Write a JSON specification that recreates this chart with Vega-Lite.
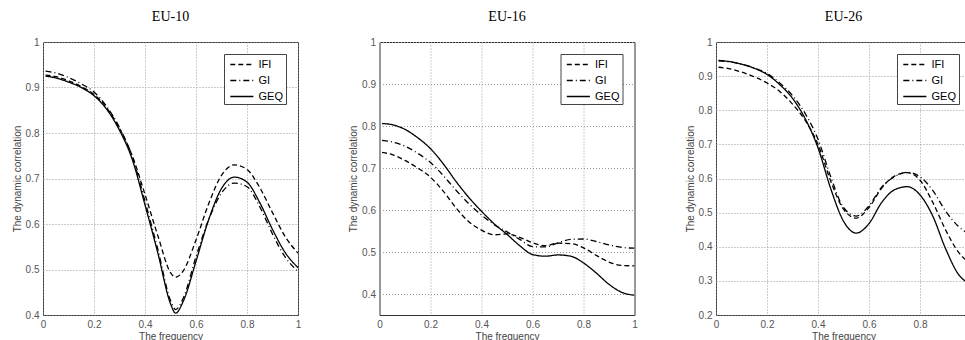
{
  "$schema": "https://vega.github.io/schema/vega-lite/v6.json",
  "padding": {"left": 11, "top": 9, "right": 0, "bottom": 0},
  "background": "white",
  "bounds": "flush",
  "spacing": 81.5,
  "datasets": {
    "eu10": [
      {"f":0.01,"s":"IFI","v":0.927},{"f":0.05,"s":"IFI","v":0.924},{"f":0.1,"s":"IFI","v":0.915},{"f":0.15,"s":"IFI","v":0.902},{"f":0.2,"s":"IFI","v":0.885},{"f":0.25,"s":"IFI","v":0.855},{"f":0.3,"s":"IFI","v":0.81},{"f":0.35,"s":"IFI","v":0.75},{"f":0.4,"s":"IFI","v":0.665},{"f":0.45,"s":"IFI","v":0.575},{"f":0.5,"s":"IFI","v":0.493},{"f":0.52,"s":"IFI","v":0.483},{"f":0.55,"s":"IFI","v":0.497},{"f":0.6,"s":"IFI","v":0.565},{"f":0.65,"s":"IFI","v":0.645},{"f":0.7,"s":"IFI","v":0.707},{"f":0.75,"s":"IFI","v":0.73},{"f":0.8,"s":"IFI","v":0.72},{"f":0.85,"s":"IFI","v":0.68},{"f":0.9,"s":"IFI","v":0.625},{"f":0.95,"s":"IFI","v":0.572},{"f":1,"s":"IFI","v":0.536},
      {"f":0.01,"s":"GI","v":0.936},{"f":0.05,"s":"GI","v":0.932},{"f":0.1,"s":"GI","v":0.922},{"f":0.15,"s":"GI","v":0.908},{"f":0.2,"s":"GI","v":0.89},{"f":0.25,"s":"GI","v":0.858},{"f":0.3,"s":"GI","v":0.812},{"f":0.35,"s":"GI","v":0.748},{"f":0.4,"s":"GI","v":0.65},{"f":0.45,"s":"GI","v":0.545},{"f":0.5,"s":"GI","v":0.432},{"f":0.52,"s":"GI","v":0.412},{"f":0.55,"s":"GI","v":0.437},{"f":0.6,"s":"GI","v":0.528},{"f":0.65,"s":"GI","v":0.61},{"f":0.7,"s":"GI","v":0.668},{"f":0.75,"s":"GI","v":0.69},{"f":0.8,"s":"GI","v":0.682},{"f":0.85,"s":"GI","v":0.638},{"f":0.9,"s":"GI","v":0.578},{"f":0.95,"s":"GI","v":0.527},{"f":1,"s":"GI","v":0.496},
      {"f":0.01,"s":"GEQ","v":0.925},{"f":0.05,"s":"GEQ","v":0.921},{"f":0.1,"s":"GEQ","v":0.912},{"f":0.15,"s":"GEQ","v":0.9},{"f":0.2,"s":"GEQ","v":0.882},{"f":0.25,"s":"GEQ","v":0.852},{"f":0.3,"s":"GEQ","v":0.806},{"f":0.35,"s":"GEQ","v":0.742},{"f":0.4,"s":"GEQ","v":0.642},{"f":0.45,"s":"GEQ","v":0.537},{"f":0.5,"s":"GEQ","v":0.425},{"f":0.52,"s":"GEQ","v":0.404},{"f":0.55,"s":"GEQ","v":0.43},{"f":0.6,"s":"GEQ","v":0.518},{"f":0.65,"s":"GEQ","v":0.61},{"f":0.7,"s":"GEQ","v":0.678},{"f":0.75,"s":"GEQ","v":0.703},{"f":0.8,"s":"GEQ","v":0.692},{"f":0.85,"s":"GEQ","v":0.647},{"f":0.9,"s":"GEQ","v":0.588},{"f":0.95,"s":"GEQ","v":0.537},{"f":1,"s":"GEQ","v":0.504}
    ],
    "eu16": [
      {"f":0.01,"s":"IFI","v":0.737},{"f":0.05,"s":"IFI","v":0.732},{"f":0.1,"s":"IFI","v":0.718},{"f":0.15,"s":"IFI","v":0.7},{"f":0.2,"s":"IFI","v":0.678},{"f":0.25,"s":"IFI","v":0.645},{"f":0.3,"s":"IFI","v":0.605},{"f":0.35,"s":"IFI","v":0.572},{"f":0.4,"s":"IFI","v":0.552},{"f":0.45,"s":"IFI","v":0.541},{"f":0.5,"s":"IFI","v":0.543},{"f":0.55,"s":"IFI","v":0.535},{"f":0.6,"s":"IFI","v":0.522},{"f":0.65,"s":"IFI","v":0.515},{"f":0.7,"s":"IFI","v":0.521},{"f":0.75,"s":"IFI","v":0.52},{"f":0.8,"s":"IFI","v":0.51},{"f":0.85,"s":"IFI","v":0.492},{"f":0.9,"s":"IFI","v":0.476},{"f":0.95,"s":"IFI","v":0.468},{"f":1,"s":"IFI","v":0.467},
      {"f":0.01,"s":"GI","v":0.766},{"f":0.05,"s":"GI","v":0.762},{"f":0.1,"s":"GI","v":0.752},{"f":0.15,"s":"GI","v":0.735},{"f":0.2,"s":"GI","v":0.713},{"f":0.25,"s":"GI","v":0.682},{"f":0.3,"s":"GI","v":0.647},{"f":0.35,"s":"GI","v":0.615},{"f":0.4,"s":"GI","v":0.588},{"f":0.45,"s":"GI","v":0.565},{"f":0.5,"s":"GI","v":0.548},{"f":0.55,"s":"GI","v":0.53},{"f":0.6,"s":"GI","v":0.513},{"f":0.65,"s":"GI","v":0.512},{"f":0.7,"s":"GI","v":0.522},{"f":0.75,"s":"GI","v":0.53},{"f":0.8,"s":"GI","v":0.531},{"f":0.85,"s":"GI","v":0.525},{"f":0.9,"s":"GI","v":0.517},{"f":0.95,"s":"GI","v":0.511},{"f":1,"s":"GI","v":0.509},
      {"f":0.01,"s":"GEQ","v":0.806},{"f":0.05,"s":"GEQ","v":0.803},{"f":0.1,"s":"GEQ","v":0.792},{"f":0.15,"s":"GEQ","v":0.772},{"f":0.2,"s":"GEQ","v":0.746},{"f":0.25,"s":"GEQ","v":0.71},{"f":0.3,"s":"GEQ","v":0.668},{"f":0.35,"s":"GEQ","v":0.63},{"f":0.4,"s":"GEQ","v":0.597},{"f":0.45,"s":"GEQ","v":0.567},{"f":0.5,"s":"GEQ","v":0.542},{"f":0.55,"s":"GEQ","v":0.515},{"f":0.6,"s":"GEQ","v":0.494},{"f":0.65,"s":"GEQ","v":0.49},{"f":0.7,"s":"GEQ","v":0.493},{"f":0.75,"s":"GEQ","v":0.49},{"f":0.8,"s":"GEQ","v":0.474},{"f":0.85,"s":"GEQ","v":0.45},{"f":0.9,"s":"GEQ","v":0.423},{"f":0.95,"s":"GEQ","v":0.404},{"f":1,"s":"GEQ","v":0.397}
    ],
    "eu26": [
      {"f":0.01,"s":"IFI","v":0.926},{"f":0.05,"s":"IFI","v":0.922},{"f":0.1,"s":"IFI","v":0.912},{"f":0.15,"s":"IFI","v":0.898},{"f":0.2,"s":"IFI","v":0.88},{"f":0.25,"s":"IFI","v":0.855},{"f":0.3,"s":"IFI","v":0.818},{"f":0.35,"s":"IFI","v":0.77},{"f":0.4,"s":"IFI","v":0.7},{"f":0.45,"s":"IFI","v":0.592},{"f":0.5,"s":"IFI","v":0.51},{"f":0.55,"s":"IFI","v":0.484},{"f":0.6,"s":"IFI","v":0.515},{"f":0.65,"s":"IFI","v":0.572},{"f":0.7,"s":"IFI","v":0.607},{"f":0.75,"s":"IFI","v":0.617},{"f":0.8,"s":"IFI","v":0.595},{"f":0.85,"s":"IFI","v":0.53},{"f":0.9,"s":"IFI","v":0.45},{"f":0.95,"s":"IFI","v":0.385},{"f":1,"s":"IFI","v":0.35},
      {"f":0.01,"s":"GI","v":0.945},{"f":0.05,"s":"GI","v":0.942},{"f":0.1,"s":"GI","v":0.935},{"f":0.15,"s":"GI","v":0.924},{"f":0.2,"s":"GI","v":0.908},{"f":0.25,"s":"GI","v":0.88},{"f":0.3,"s":"GI","v":0.843},{"f":0.35,"s":"GI","v":0.79},{"f":0.4,"s":"GI","v":0.715},{"f":0.45,"s":"GI","v":0.605},{"f":0.5,"s":"GI","v":0.515},{"f":0.55,"s":"GI","v":0.49},{"f":0.6,"s":"GI","v":0.52},{"f":0.65,"s":"GI","v":0.575},{"f":0.7,"s":"GI","v":0.605},{"f":0.75,"s":"GI","v":0.618},{"f":0.8,"s":"GI","v":0.605},{"f":0.85,"s":"GI","v":0.565},{"f":0.9,"s":"GI","v":0.505},{"f":0.95,"s":"GI","v":0.46},{"f":1,"s":"GI","v":0.435},
      {"f":0.01,"s":"GEQ","v":0.946},{"f":0.05,"s":"GEQ","v":0.943},{"f":0.1,"s":"GEQ","v":0.935},{"f":0.15,"s":"GEQ","v":0.923},{"f":0.2,"s":"GEQ","v":0.905},{"f":0.25,"s":"GEQ","v":0.875},{"f":0.3,"s":"GEQ","v":0.835},{"f":0.35,"s":"GEQ","v":0.775},{"f":0.4,"s":"GEQ","v":0.69},{"f":0.45,"s":"GEQ","v":0.57},{"f":0.5,"s":"GEQ","v":0.475},{"f":0.55,"s":"GEQ","v":0.44},{"f":0.6,"s":"GEQ","v":0.468},{"f":0.65,"s":"GEQ","v":0.53},{"f":0.7,"s":"GEQ","v":0.567},{"f":0.75,"s":"GEQ","v":0.576},{"f":0.8,"s":"GEQ","v":0.552},{"f":0.85,"s":"GEQ","v":0.49},{"f":0.9,"s":"GEQ","v":0.395},{"f":0.95,"s":"GEQ","v":0.32},{"f":1,"s":"GEQ","v":0.29}
    ]
  },
  "hconcat": [
    {
      "title": "EU-10",
      "data": {"name": "eu10"},
      "width": 255, "height": 273,
      "mark": {"type": "line", "color": "black", "strokeWidth": 1.3, "interpolate": "monotone", "clip": true},
      "encoding": {
        "x": {"field": "f", "type": "quantitative", "scale": {"domain": [0, 1], "nice": false, "zero": false}, "axis": {"title": "The frequency", "values": [0, 0.2, 0.4, 0.6, 0.8, 1], "format": "~g"}},
        "y": {"field": "v", "type": "quantitative", "scale": {"domain": [0.4, 1], "nice": false, "zero": false}, "axis": {"title": "The dynamic correlation", "values": [0.4, 0.5, 0.6, 0.7, 0.8, 0.9, 1], "format": "~g"}},
        "strokeDash": {"field": "s", "type": "nominal", "scale": {"domain": ["IFI", "GI", "GEQ"], "range": [[5, 3], [6, 3, 1, 3], [1, 0]]}, "legend": {"title": null}}
      }
    },
    {
      "title": "EU-16",
      "data": {"name": "eu16"},
      "width": 255, "height": 273,
      "mark": {"type": "line", "color": "black", "strokeWidth": 1.3, "interpolate": "monotone", "clip": true},
      "encoding": {
        "x": {"field": "f", "type": "quantitative", "scale": {"domain": [0, 1], "nice": false, "zero": false}, "axis": {"title": "The frequency", "values": [0, 0.2, 0.4, 0.6, 0.8, 1], "format": "~g"}},
        "y": {"field": "v", "type": "quantitative", "scale": {"domain": [0.35, 1], "nice": false, "zero": false}, "axis": {"title": "The dynamic correlation", "values": [0.4, 0.5, 0.6, 0.7, 0.8, 0.9, 1], "format": "~g"}},
        "strokeDash": {"field": "s", "type": "nominal", "scale": {"domain": ["IFI", "GI", "GEQ"], "range": [[5, 3], [6, 3, 1, 3], [1, 0]]}, "legend": {"title": null}}
      }
    },
    {
      "title": "EU-26",
      "data": {"name": "eu26"},
      "width": 255, "height": 273,
      "mark": {"type": "line", "color": "black", "strokeWidth": 1.3, "interpolate": "monotone", "clip": true},
      "encoding": {
        "x": {"field": "f", "type": "quantitative", "scale": {"domain": [0, 1], "nice": false, "zero": false}, "axis": {"title": "The frequency", "values": [0, 0.2, 0.4, 0.6, 0.8], "format": "~g"}},
        "y": {"field": "v", "type": "quantitative", "scale": {"domain": [0.2, 1], "nice": false, "zero": false}, "axis": {"title": "The dynamic correlation", "values": [0.2, 0.3, 0.4, 0.5, 0.6, 0.7, 0.8, 0.9, 1], "format": "~g"}},
        "strokeDash": {"field": "s", "type": "nominal", "scale": {"domain": ["IFI", "GI", "GEQ"], "range": [[5, 3], [6, 3, 1, 3], [1, 0]]}, "legend": {"title": null}}
      }
    }
  ],
  "resolve": {
    "scale": {"x": "independent", "y": "independent", "strokeDash": "independent"},
    "legend": {"strokeDash": "independent"}
  },
  "config": {
    "font": "Liberation Sans",
    "view": {"stroke": "#333", "strokeWidth": 1},
    "title": {"font": "Liberation Serif", "fontSize": 14, "fontWeight": "normal", "color": "black", "offset": 13},
    "axis": {
      "grid": true, "gridColor": "#999", "gridDash": [1, 2], "gridWidth": 1,
      "domain": false, "ticks": false,
      "labelFont": "Liberation Sans", "labelFontSize": 10, "labelColor": "#555", "labelFlush": false, "labelPadding": 4,
      "titleFont": "Liberation Sans", "titleFontSize": 10, "titleColor": "#444", "titleFontWeight": "normal"
    },
    "axisX": {"titlePadding": 2},
    "axisY": {"titlePadding": 3},
    "legend": {
      "orient": "top-right", "offset": 12,
      "strokeColor": "#444", "fillColor": "white", "padding": 2.5, "cornerRadius": 0,
      "symbolType": "M-0.6,0H2.7", "symbolSize": 196, "symbolStrokeWidth": 1.3, "symbolStrokeColor": "black",
      "labelFont": "Liberation Sans", "labelFontSize": 11, "labelColor": "black", "labelOffset": 16, "rowPadding": 3
    }
  }
}
